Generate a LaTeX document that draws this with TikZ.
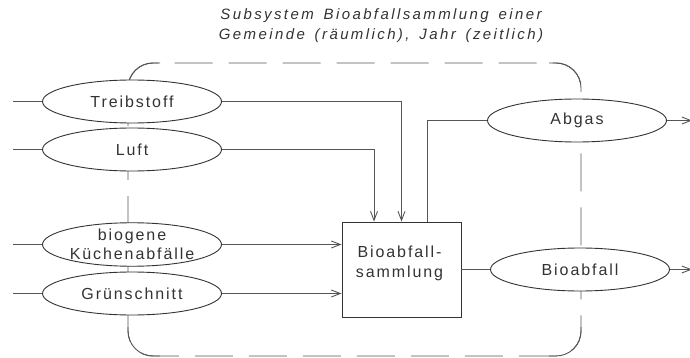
\documentclass[tikz,border=0pt]{standalone}
\usepackage{fontspec}
\setmainfont{Liberation Sans}[LetterSpace=12]
\newfontfamily\titelfont{Liberation Sans}[LetterSpace=16, WordSpace=1.5]
\usetikzlibrary{arrows.meta,shapes.geometric}
\definecolor{strich}{HTML}{555555}
\definecolor{schrift}{HTML}{333333}
\begin{document}
\begin{tikzpicture}[x=1pt, y=-1pt, line width=0.9pt, >={Straight Barb[length=9pt,width=7pt]},
  stoff/.style={ellipse, draw=schrift, fill=white, minimum width=179pt, minimum height=43pt, inner sep=0pt, align=center, text=schrift, font=\fontsize{16}{19}\selectfont},
  fluss/.style={draw=strich},
  grenze/.style={draw=strich, dash pattern=on 38pt off 16pt, rounded corners=25pt},
  grenzecke/.style={draw=strich, rounded corners=25pt}]
  \useasboundingbox (0,0) rectangle (690,358);
  % Systemgrenze
  \draw[grenze] (128,63) rectangle (581,356);
  \draw[grenzecke] (128,92) |- (160,63);
  \draw[grenzecke] (549,63) -| (581,92);
  \draw[grenzecke] (581,327) |- (549,356);
  \draw[grenzecke] (160,356) -| (128,327);
  \node[text=schrift, font=\titelfont\itshape\fontsize{15}{20}\selectfont, align=center] (titel) at (381,26) {Subsystem Bioabfallsammlung einer\\Gemeinde (räumlich), Jahr (zeitlich)};
  % Stoffe
  \node[stoff] (treib) at (132,101.5) {Treibstoff};
  \node[stoff] (luft) at (132,149.5) {Luft};
  \node[stoff] (kueche) at (132,244.5) {biogene\\Küchenabfälle};
  \node[stoff] (gruen) at (132,293.5) {Grünschnitt};
  \node[stoff] (abgas) at (577,120.5) {Abgas};
  \node[stoff] (bioab) at (580,269.5) {Bioabfall};
  % Prozess
  \node[draw=schrift, minimum width=119pt, minimum height=95pt, inner sep=0pt] (sammel) at (401.5,269.5) {};
  \node[text=schrift, align=center, font=\fontsize{16}{20}\selectfont] (sammeltext) at ([xshift=-2pt,yshift=6.5pt]sammel.center) {Bioabfall-\\sammlung};
  \coordinate (ein1) at (13,101.5);
  \coordinate (ein2) at (13,149.5);
  \coordinate (ein3) at (13,244.5);
  \coordinate (ein4) at (13,293.5);
  \coordinate (aus1) at (692,120.5);
  \coordinate (aus2) at (692,269.5);
  % Fluesse
  \draw[fluss] (ein1) -- (treib.west);
  \draw[fluss] (ein2) -- (luft.west);
  \draw[fluss] (ein3) -- (kueche.west);
  \draw[fluss] (ein4) -- (gruen.west);
  \draw[fluss,->] (treib.east) -| (sammel.north);
  \draw[fluss,->] (luft.east) -| ([xshift=-27.5pt]sammel.north);
  \draw[fluss,->] (kueche.east) -- (kueche.east -| sammel.west);
  \draw[fluss,->] (gruen.east) -- (gruen.east -| sammel.west);
  \draw[fluss] ([xshift=25.5pt]sammel.north) |- (abgas.west);
  \draw[fluss] (sammel.east) -- (bioab.west);
  \draw[fluss,->] (abgas.east) -- (aus1);
  \draw[fluss,->] (bioab.east) -- (aus2);
\end{tikzpicture}
\end{document}
